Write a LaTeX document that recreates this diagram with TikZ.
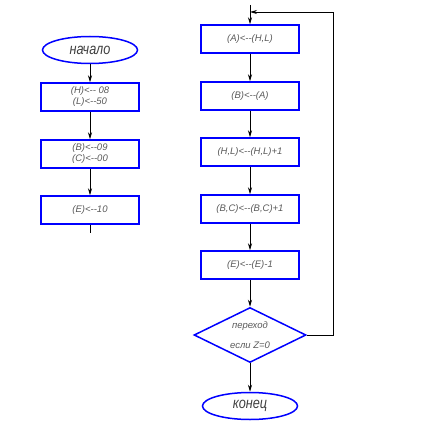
\documentclass[tikz,border=0pt]{standalone}
\usepackage{fontspec}
\setmainfont{Liberation Sans}
\newfontfamily\narrowfont{Liberation Sans}[FakeStretch=0.82]
\usetikzlibrary{shapes.geometric,arrows.meta}
\begin{document}
\begin{tikzpicture}[x=1pt,y=-1pt,
 box/.style={draw=blue, line width=1.5pt, minimum width=98pt, minimum height=28pt, inner sep=0pt, align=center, text=black!65, font=\itshape\fontsize{9.5}{11}\selectfont},
 term/.style={ellipse, draw=blue, line width=1.5pt, minimum width=95pt, minimum height=27pt, inner sep=0pt, text=black!75, font=\narrowfont\itshape\fontsize{15.5}{16}\selectfont},
 dec/.style={diamond, draw=blue, line width=1.5pt, minimum width=112pt, minimum height=55pt, inner sep=0pt},
 dectext/.style={align=center, text=black!65, font=\itshape\fontsize{9.5}{20}\selectfont},
 arr/.style={-{Stealth[length=7pt,width=4pt]}, line width=0.7pt},
 ln/.style={line width=0.7pt}]
\useasboundingbox (0,0) rectangle (428,425);
% left column
\node[term] (start) at (90,50) {начало};
\node[box] (l1) at (90,97) {(H)<-{}- 08\\(L)<-{}-50};
\node[box] (l2) at (90,154) {(B)<-{}-09\\(C)<-{}-00};
\node[box] (l3) at (90,210) {(E)<-{}-10};
\coordinate (lend) at (90,233);
\draw[arr] (start) -- (l1);
\draw[arr] (l1) -- (l2);
\draw[arr] (l2) -- (l3);
\draw[ln] (l3) -- (lend);
% right column
\coordinate (rtop) at (250,5);
\coordinate (join) at (250,12);
\node[box] (r1) at (250,39) {(A)<-{}-(H,L)};
\node[box] (r2) at (250,96) {(B)<-{}-(A)};
\node[box] (r3) at (250,152) {(H,L)<-{}-(H,L)+1};
\node[box] (r4) at (250,209) {(B,C)<-{}-(B,C)+1};
\node[box] (r5) at (250,265) {(E)<-{}-(E)-1};
\node[dec] (d) at (250,335) {};
\node[dectext] at (d) {переход\\если Z=0};
\node[term] (stop) at (250,406) {конец};
\draw[ln] (rtop) -- (join);
\draw[arr] (join) -- (r1);
\draw[arr] (r1) -- (r2);
\draw[arr] (r2) -- (r3);
\draw[arr] (r3) -- (r4);
\draw[arr] (r4) -- (r5);
\draw[arr] (r5) -- (d);
\draw[arr] (d) -- (stop);
\coordinate (c1) at (333,335);
\coordinate (c2) at (333,12);
\draw[arr] (d.east) -- (c1) -- (c2) -- (join);
\end{tikzpicture}
\end{document}
